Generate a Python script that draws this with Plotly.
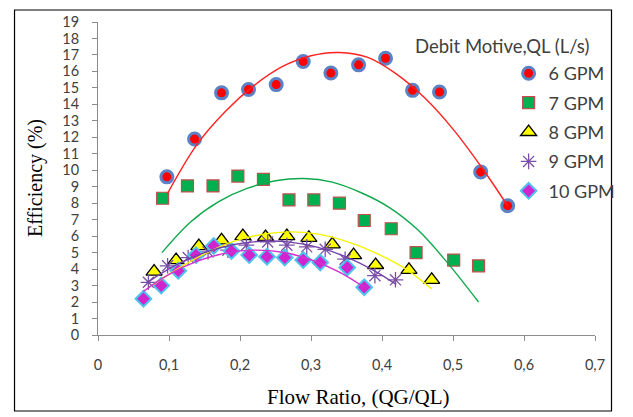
import plotly.graph_objects as go

# ---------------- data ----------------
series_names = ["6 GPM", "7 GPM", "8 GPM", "9 GPM", "10 GPM"]

x_6 = [0.097, 0.136, 0.174, 0.212, 0.251, 0.289, 0.328, 0.367, 0.405, 0.443, 0.481, 0.539, 0.577]
y_6 = [9.6, 11.9, 14.7, 14.9, 15.2, 16.6, 15.9, 16.4, 16.8, 14.85, 14.75, 9.9, 7.85]

x_7 = [0.091, 0.126, 0.162, 0.197, 0.233, 0.269, 0.304, 0.340, 0.375, 0.413, 0.448, 0.501, 0.536]
y_7 = [8.3, 9.05, 9.05, 9.65, 9.45, 8.2, 8.2, 8.0, 6.95, 6.45, 5.0, 4.55, 4.2]

x_8 = [0.079, 0.110, 0.142, 0.174, 0.204, 0.236, 0.266, 0.297, 0.330, 0.360, 0.391, 0.438, 0.470]
y_8 = [3.85, 4.55, 5.4, 5.75, 6.0, 5.95, 6.0, 5.9, 5.5, 4.85, 4.25, 3.95, 3.35]

x_9 = [0.071, 0.098, 0.127, 0.155, 0.183, 0.209, 0.239, 0.266, 0.294, 0.320, 0.348, 0.390, 0.419]
y_9 = [3.2, 4.2, 4.7, 5.05, 5.15, 5.45, 5.65, 5.45, 5.35, 5.2, 4.6, 3.6, 3.35]

x_10 = [0.064, 0.089, 0.113, 0.138, 0.163, 0.188, 0.213, 0.238, 0.263, 0.289, 0.313, 0.351, 0.375]
y_10 = [2.2, 3.0, 3.9, 4.85, 5.4, 5.1, 4.85, 4.75, 4.7, 4.55, 4.4, 4.1, 2.9]

# trend lines
trend_x_6 = [0.098, 0.14, 0.18, 0.22, 0.26, 0.30, 0.34, 0.38, 0.42, 0.46, 0.50, 0.54, 0.577]
trend_y_6 = [8.6, 11.6, 13.6, 15.15, 16.3, 16.95, 17.15, 16.85, 15.85, 14.4, 12.5, 10.2, 7.84]

trend_x_7 = [0.09, 0.13, 0.17, 0.21, 0.25, 0.29, 0.33, 0.37, 0.41, 0.45, 0.49, 0.536]
trend_y_7 = [5.0, 6.85, 8.1, 8.9, 9.36, 9.5, 9.28, 8.65, 7.75, 6.4, 4.5, 2.0]

trend_x_8 = [0.077, 0.11, 0.15, 0.19, 0.23, 0.27, 0.31, 0.35, 0.39, 0.43, 0.47]
trend_y_8 = [3.03, 3.95, 4.92, 5.67, 6.1, 6.26, 6.12, 5.68, 5.0, 4.1, 2.8]

trend_x_9 = [0.070, 0.11, 0.15, 0.19, 0.23, 0.27, 0.31, 0.35, 0.39, 0.42]
trend_y_9 = [3.2, 4.25, 5.0, 5.48, 5.69, 5.64, 5.32, 4.73, 3.88, 3.07]

trend_x_10 = [0.064, 0.10, 0.14, 0.18, 0.22, 0.26, 0.30, 0.34, 0.375]
trend_y_10 = [2.65, 3.68, 4.48, 4.97, 5.15, 5.02, 4.57, 3.82, 2.9]

x_tick_vals = [0, 0.1, 0.2, 0.3, 0.4, 0.5, 0.6, 0.7]
x_tick_text = ["0", "0,1", "0,2", "0,3", "0,4", "0,5", "0,6", "0,7"]
y_tick_vals = list(range(0, 20))
y_tick_text = [str(v) for v in y_tick_vals]

legend_title = "Debit Motive,QL (L/s)"
x_title = "Flow Ratio, (QG/QL)"
y_title = "Efficiency (%)"

# ---------------- layout helpers (pixel -> paper) ----------------
W, H = 633, 417
ML, MR, MT, MB = 98, 23, 22, 82
PW, PH = W - ML - MR, H - MT - MB


def px_x(p):
    return (p - ML) / PW


def px_y(p):
    return (H - MB - p) / PH


SANS = "Lato, 'Open Sans', sans-serif"
SERIF = "'Liberation Serif', 'Times New Roman', serif"
TXT = "#404040"

marker_styles = [
    dict(symbol="circle", size=12, color="#FF0000", line=dict(color="#5B82C4", width=3)),
    dict(symbol="square", size=12, color="#00B050", line=dict(color="#C0504D", width=1.2)),
    dict(symbol="triangle-up", size=14, color="#FFFF00", line=dict(color="#000000", width=1.3)),
    dict(symbol="asterisk-open", size=13, color="#7B4FA8", line=dict(color="#7B4FA8", width=1.3)),
    dict(symbol="diamond", size=12, color="#D024CF", line=dict(color="#4CC3EE", width=2)),
]
line_colors = ["#FF2020", "#10A84C", "#F5F500", "#7340A8", "#D430D0"]

xs = [x_6, x_7, x_8, x_9, x_10]
ys = [y_6, y_7, y_8, y_9, y_10]
txs = [trend_x_6, trend_x_7, trend_x_8, trend_x_9, trend_x_10]
tys = [trend_y_6, trend_y_7, trend_y_8, trend_y_9, trend_y_10]

fig = go.Figure()
for i, name in enumerate(series_names):
    fig.add_trace(go.Scatter(
        x=xs[i], y=ys[i], mode="markers", name=name,
        marker=marker_styles[i], legendgroup=name, cliponaxis=False,
    ))
for i, name in enumerate(series_names):
    fig.add_trace(go.Scatter(
        x=txs[i], y=tys[i], mode="lines", showlegend=False, hoverinfo="skip",
        line=dict(color=line_colors[i], width=1.4, shape="spline"),
    ))

fig.update_layout(
    width=W, height=H,
    margin=dict(l=ML, r=MR, t=MT, b=MB),
    paper_bgcolor="white", plot_bgcolor="white",
    font=dict(family=SANS, color=TXT),
    xaxis=dict(
        range=[0, 0.7], tickvals=x_tick_vals, ticktext=x_tick_text,
        showgrid=False, zeroline=False, showline=True, linecolor="#8C8C8C", linewidth=1,
        ticks="outside", ticklen=5, tickcolor="#8C8C8C", tickwidth=1,
        tickfont=dict(family=SANS, size=14.5, color=TXT), ticklabelstandoff=12,
    ),
    yaxis=dict(
        range=[0, 19], tickvals=y_tick_vals, ticktext=y_tick_text,
        showgrid=False, zeroline=False, showline=True, linecolor="#8C8C8C", linewidth=1,
        ticks="outside", ticklen=5, tickcolor="#8C8C8C", tickwidth=1,
        tickfont=dict(family=SANS, size=14.5, color=TXT), ticklabelstandoff=10,
    ),
    legend=dict(
        x=px_x(521), y=px_y(55), xanchor="left", yanchor="top",
        font=dict(family=SANS, size=18, color=TXT),
        bgcolor="rgba(0,0,0,0)", tracegroupgap=3,
        entrywidth=66, entrywidthmode="pixels",
    ),
    annotations=[
        dict(text=legend_title, xref="paper", yref="paper", x=px_x(423), y=px_y(46),
             xanchor="left", yanchor="middle", showarrow=False,
             font=dict(family=SANS, size=18.5, color=TXT)),
        dict(text=x_title, xref="paper", yref="paper", x=px_x(366), y=px_y(397),
             xanchor="center", yanchor="middle", showarrow=False,
             font=dict(family=SERIF, size=21, color="#000000")),
        dict(text=y_title, xref="paper", yref="paper", x=px_x(33), y=px_y(178),
             xanchor="center", yanchor="middle", showarrow=False, textangle=-90,
             font=dict(family=SERIF, size=20, color="#000000")),
    ],
    shapes=[
        dict(type="rect", xref="paper", yref="paper",
             x0=px_x(12), x1=px_x(627), y0=px_y(411), y1=px_y(10),
             line=dict(color="#000000", width=1.2), fillcolor="rgba(0,0,0,0)", layer="below"),
    ],
)

fig.write_html("out.html", config={"displayModeBar": False},
               post_script="document.body.style.margin='0px';")
